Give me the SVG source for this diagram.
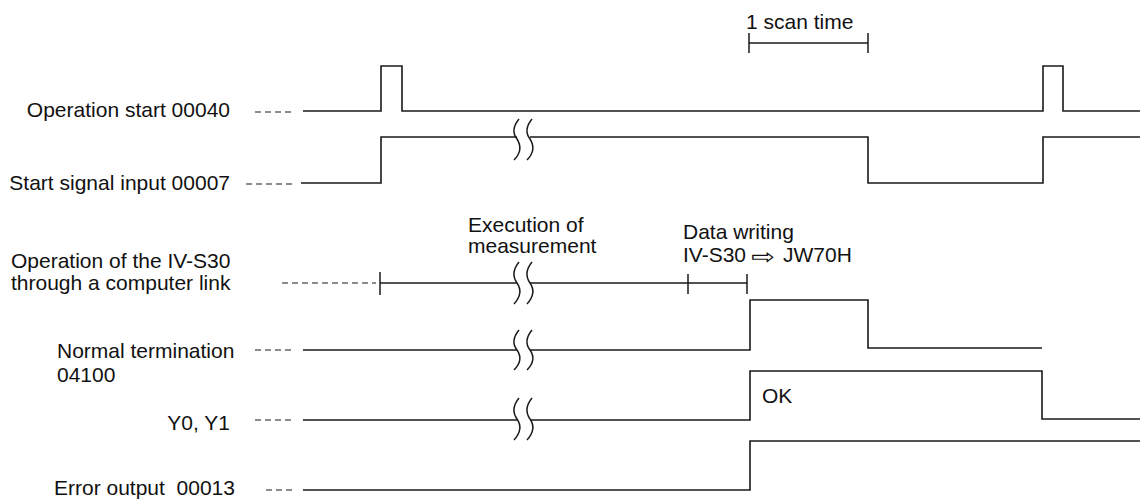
<svg xmlns="http://www.w3.org/2000/svg" width="1140" height="499" viewBox="0 0 1140 499">
<style>
text{font-family:"Liberation Sans",Arial,sans-serif;font-size:21px;fill:#111}
.sig{fill:none;stroke:#1a1a1a;stroke-width:1.6;stroke-linejoin:miter}
.dash{fill:none;stroke:#1a1a1a;stroke-width:1.2;stroke-dasharray:6 4}
.brk{fill:none;stroke:#1a1a1a;stroke-width:1.5}
.tick{stroke:#1a1a1a;stroke-width:1.5}
</style>
<rect width="1140" height="499" fill="#fff"/>

<g id="labels">
<text x="230" y="117" text-anchor="end">Operation start 00040</text>
<text x="230" y="190" text-anchor="end">Start signal input 00007</text>
<text x="11" y="268">Operation of the IV-S30</text>
<text x="11" y="290">through a computer link</text>
<text x="57" y="358">Normal termination</text>
<text x="57" y="382">04100</text>
<text x="230" y="430" text-anchor="end">Y0, Y1</text>
<text x="54" y="495" xml:space="preserve">Error output  00013</text>
</g>

<g id="annotations">
<text x="746" y="29">1 scan time</text>
<path class="sig" d="M749,43 H868"/>
<line class="tick" x1="749" y1="33" x2="749" y2="53"/>
<line class="tick" x1="868" y1="33" x2="868" y2="53"/>
<text x="468" y="232">Execution of</text>
<text x="468" y="253">measurement</text>
<text x="683" y="239">Data writing</text>
<text x="683" y="262">IV-S30</text>
<text transform="translate(751,264) scale(1.3,1)" style="font-family:'DejaVu Sans',sans-serif;font-size:22px">⇨</text>
<text x="783" y="262">JW70H</text>
<text x="762" y="403">OK</text>
</g>

<g id="connectors">
<!-- Operation start -->
<line class="dash" x1="255" y1="112" x2="293" y2="112"/>
<path class="sig" d="M303,111 H381 V66 H402 V111 H1043 V66 H1063 V111 H1140"/>
<!-- Start signal -->
<line class="dash" x1="246" y1="184" x2="292" y2="184"/>
<path class="sig" d="M301,183 H381 V137 H517"/>
<path class="sig" d="M530,137 H868 V183 H1043 V137 H1140"/>
<!-- IV-S30 operation -->
<line class="dash" x1="282" y1="283" x2="376" y2="283"/>
<path class="sig" d="M380,283 H517"/>
<path class="sig" d="M530,283 H747"/>
<line class="tick" x1="380" y1="272" x2="380" y2="295"/>
<line class="tick" x1="688" y1="274" x2="688" y2="294"/>
<line class="tick" x1="747" y1="274" x2="747" y2="294"/>
<!-- Normal termination -->
<line class="dash" x1="255" y1="350" x2="293" y2="350"/>
<path class="sig" d="M303,350 H517"/>
<path class="sig" d="M530,350 H750 V300 H868 V348 H1042"/>
<!-- Y0 Y1 -->
<line class="dash" x1="255" y1="420" x2="293" y2="420"/>
<path class="sig" d="M303,420 H517"/>
<path class="sig" d="M530,420 H750 V371 H1042 V419 H1140"/>
<!-- Error output -->
<line class="dash" x1="266" y1="490" x2="293" y2="490"/>
<path class="sig" d="M303,490 H750 V441 H1140"/>
</g>

<g id="breaks">
<path class="brk" d="M519,119 Q510,130 517,139 Q524,150 514,160 M532,119 Q523,130 530,139 Q537,150 527,160"/>
<path class="brk" d="M519,262 Q510,273 517,283 Q524,293 514,304 M532,262 Q523,273 530,283 Q537,293 527,304"/>
<path class="brk" d="M519,330 Q510,341 517,350 Q524,360 514,370 M532,330 Q523,341 530,350 Q537,360 527,370"/>
<path class="brk" d="M519,398 Q510,409 517,419 Q524,429 514,440 M532,398 Q523,409 530,419 Q537,429 527,440"/>
</g>
</svg>
